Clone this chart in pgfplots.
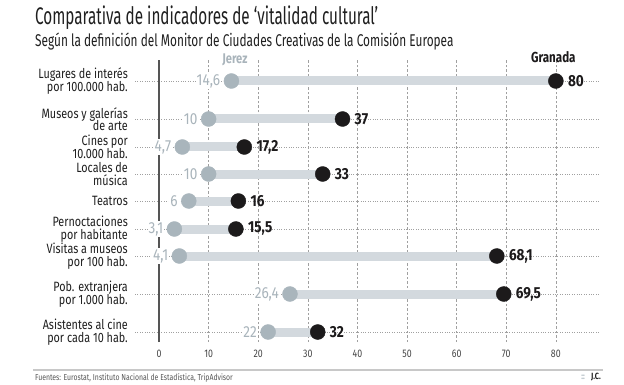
\documentclass[border=0pt]{standalone}
\usepackage{fontspec}
\setmainfont{Fira Sans}[FakeStretch=0.80]
\newfontfamily\titlefont{Fira Sans}[FakeStretch=0.636]
\newfontfamily\subfont{Fira Sans}[FakeStretch=0.697]
\newfontfamily\valfont{Fira Sans}[FakeStretch=0.85]
\usepackage{pgfplots}
\usepackage{pgfplotstable}
\pgfplotsset{compat=1.18}
\definecolor{barcol}{HTML}{D3D9DE}
\definecolor{jcol}{HTML}{A9B5BC}
\definecolor{jlab}{HTML}{A9B4BB}
\definecolor{gcol}{HTML}{1C1A1B}
\definecolor{gridcol}{HTML}{A0A0A0}
\definecolor{zerocol}{HTML}{555555}
\definecolor{labcol}{HTML}{1F1F1F}
\definecolor{tickcol}{HTML}{444444}
\definecolor{rulecol}{HTML}{C8C8C8}
\definecolor{foot}{HTML}{555555}
\newcommand\vlabfont{\valfont\fontsize{16}{16}\selectfont}
\newcommand\vlabfontb{\valfont\bfseries\fontsize{16}{16}\selectfont}

\pgfplotstableread{
y j g jl gl
-81 14.6 80 14,6 80
-119 10 37 10 37
-147 4.7 17.2 4,7 17,2
-174 10 33 10 33
-201 6 16 6 16
-229 3.1 15.5 3,1 15,5
-256 4.1 68.1 4,1 68,1
-294 26.4 69.5 26,4 69,5
-332 22 32 22 32
}\data

\begin{document}
\lineskiplimit=-20pt
\begin{tikzpicture}[x=1pt,y=1pt]
\path[use as bounding box] (0,0) rectangle (624,-385);
\node[anchor=base west, inner sep=0pt, font=\titlefont\fontsize{24}{26}\selectfont, text=labcol] at (35,-25) {Comparativa de indicadores de ‘vitalidad cultural’};
\node[anchor=base west, inner sep=0pt, font=\subfont\fontsize{17}{19}\selectfont, text=labcol] at (35,-47) {Según la definición del Monitor de Ciudades Creativas de la Comisión Europea};
\begin{axis}[
  at={(135pt,-342pt)}, anchor=south west,
  scale only axis, width=465pt, height=282pt,
  xmin=-4.84, xmax=88.9, ymin=-342, ymax=-60,
  clip=false,
  axis line style={draw=none},
  tick style={draw=none},
  major tick length=0pt,
  xtick={0,10,...,80},
  xmajorgrids, ymajorgrids,
  major x grid style={gridcol, dash pattern=on 2.5pt off 2pt, line width=0.6pt},
  major y grid style={gridcol, dotted, line width=0.6pt},
  ytick={-332,-294,-256,-229,-201,-174,-147,-119,-81},
  yticklabels={{Asistentes al cine\\por cada 10 hab.},{Pob. extranjera\\por 1.000 hab.},{Visitas a museos\\por 100 hab.},{Pernoctaciones\\por habitante},{Teatros},{Locales de\\música},{Cines por\\10.000 hab.},{Museos y galerías\\de arte},{Lugares de interés\\por 100.000 hab.}},
  yticklabel style={align=right, font=\fontsize{13.5}{12.5}\selectfont, text=labcol, inner sep=0pt, xshift=-7pt},
  xticklabel style={font=\fontsize{11}{11}\selectfont, text=tickcol, inner sep=0pt, yshift=-8pt},
  /pgf/number format/assume math mode=true,
]
\addplot[zerocol, line width=1.2pt] coordinates {(0,-342) (0,-60)};
\addplot[barcol, line width=9pt] coordinates {(14.6,-81) (80,-81)};
\addplot[barcol, line width=9pt] coordinates {(10,-119) (37,-119)};
\addplot[barcol, line width=9pt] coordinates {(4.7,-147) (17.2,-147)};
\addplot[barcol, line width=9pt] coordinates {(10,-174) (33,-174)};
\addplot[barcol, line width=9pt] coordinates {(6,-201) (16,-201)};
\addplot[barcol, line width=9pt] coordinates {(3.1,-229) (15.5,-229)};
\addplot[barcol, line width=9pt] coordinates {(4.1,-256) (68.1,-256)};
\addplot[barcol, line width=9pt] coordinates {(26.4,-294) (69.5,-294)};
\addplot[barcol, line width=9pt] coordinates {(22,-332) (32,-332)};
\addplot[only marks, mark=*, mark size=7.5pt, color=jcol,
  point meta=explicit symbolic,
  nodes near coords={\vlabfont\pgfplotspointmeta},
  every node near coord/.append style={anchor=east, xshift=-10pt, text=jlab, fill=white, inner sep=1pt}]
  table[x=j, y=y, meta=jl]{\data};
\addplot[only marks, mark=*, mark size=7.5pt, color=gcol,
  point meta=explicit symbolic,
  nodes near coords={\vlabfontb\pgfplotspointmeta},
  every node near coord/.append style={anchor=west, xshift=11pt, text=gcol, inner sep=1pt}]
  table[x=g, y=y, meta=gl]{\data};
\node[font=\bfseries\fontsize{14}{14}\selectfont, text=jlab] at (axis cs:15.3,-60) {Jerez};
\node[font=\bfseries\fontsize{14.5}{14.5}\selectfont, text=gcol] at (axis cs:79.5,-57) {Granada};
\end{axis}
\draw[rulecol, line width=1.5pt] (33,-370) -- (603,-370);
\node[anchor=west, inner sep=0pt, font=\fontsize{8.6}{9}\selectfont, text=foot] at (35,-377.5) {Fuentes: Eurostat, Instituto Nacional de Estadística, TripAdvisor};
\node[anchor=east, inner sep=0pt, font=\bfseries\fontsize{9}{9}\selectfont, text=labcol] at (601,-377.5) {J.C.};
\node[anchor=east, inner sep=0pt, font=\bfseries\fontsize{9}{9}\selectfont, text=jcol] at (585,-377.5) {::};
\end{tikzpicture}
\end{document}
